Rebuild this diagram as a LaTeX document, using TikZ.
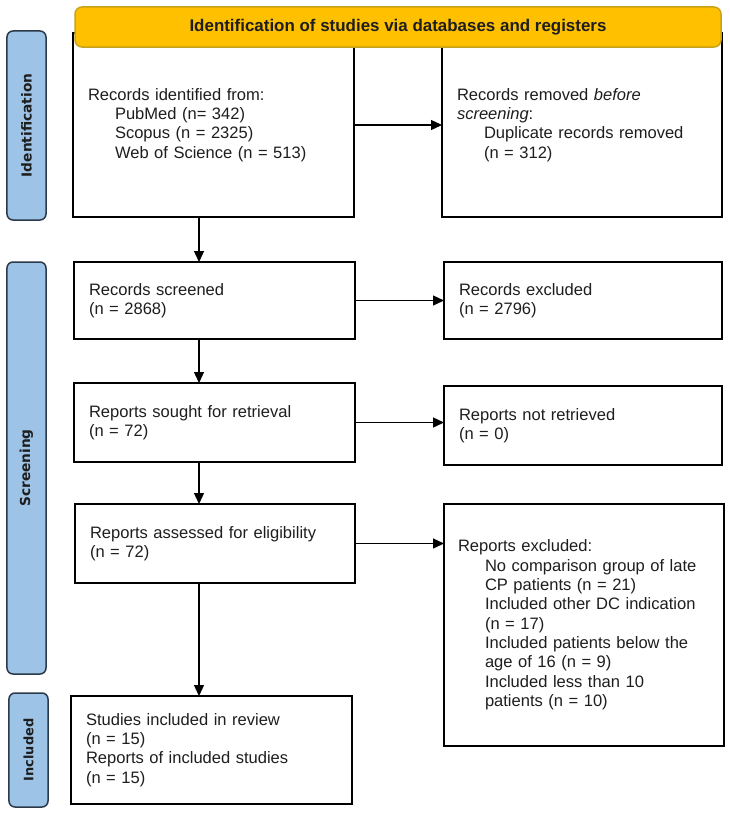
\documentclass[tikz,border=0pt]{standalone}
\usepackage{fontspec}
\setmainfont{Liberation Sans}
\newfontfamily\sidefont{DejaVu Sans}
\usetikzlibrary{arrows.meta,calc}
\definecolor{hdrfill}{HTML}{FFC000}
\definecolor{hdrline}{HTML}{C9A21C}
\definecolor{barfill}{HTML}{9DC3E6}
\definecolor{barline}{HTML}{2B3A4A}
\definecolor{txt}{HTML}{1E1E1E}
\newcommand{\ind}{\hspace*{27bp}}
\begin{document}
\begin{tikzpicture}[x=1bp,y=-1bp,
  box/.style={draw=black, line width=1.6bp, fill=white, anchor=north west,
    inner xsep=15bp, inner ysep=0pt, outer sep=0pt, align=left,
    font=\fontsize{16.6}{19.4}\selectfont, text=txt},
  bar/.style={draw=barline, line width=1.5bp, fill=barfill, rounded corners=6bp,
    outer sep=0pt, inner sep=0pt, rotate=90, anchor=center,
    font=\sidefont\bfseries\fontsize{13.8}{16}\selectfont, text=txt},
  arr/.style={-{Triangle[length=11bp,width=10bp]}, line width=1.3bp, draw=black},
]
\useasboundingbox (0,0) rectangle (730,818);
\fill[white] (0,0) rectangle (730,818);

% side bars
\node[bar, minimum width=189bp, minimum height=39bp] (idbar) at (26.5,125.5) {Identification};
\node[bar, minimum width=412bp, minimum height=39bp] (scbar) at (26.5,468) {Screening};
\node[bar, minimum width=114bp, minimum height=39bp, font=\sidefont\bfseries\fontsize{13}{15}\selectfont] (inbar) at (28.5,750) {Included};

% boxes
\node[box, minimum width=281bp, minimum height=184bp, text width=251bp] (b1) at (73,33)
  {Records identified from:\\ \ind PubMed (n= 342)\\ \ind Scopus (n = 2325)\\ \ind Web of Science (n = 513)};
\node[box, minimum width=280bp, minimum height=184bp, text width=250bp] (b2) at (442,33)
  {Records removed \textit{before}\\ \textit{screening}:\\ \ind Duplicate records removed\\ \ind (n = 312)};
\node[box, minimum width=281bp, minimum height=77bp, text width=251bp] (b3) at (74,262)
  {Records screened\\ (n = 2868)};
\node[box, minimum width=278bp, minimum height=77bp, text width=248bp] (b4) at (444,262)
  {Records excluded\\ (n = 2796)};
\node[box, minimum width=281bp, minimum height=79bp, text width=251bp] (b5) at (74,383)
  {Reports sought for retrieval\\ (n = 72)};
\node[box, minimum width=278bp, minimum height=79bp, text width=248bp] (b6) at (444,386)
  {Reports not retrieved\\ (n = 0)};
\node[box, minimum width=280bp, minimum height=79bp, text width=250bp] (b7) at (75,504)
  {Reports assessed for eligibility\\ (n = 72)};
\node[box, minimum width=280bp, minimum height=242bp, text width=252bp, inner xsep=14bp] (b8) at (444,504)
  {Reports excluded:\\ \ind No comparison group of late\\ \ind CP patients (n = 21)\\ \ind Included other DC indication\\ \ind (n = 17)\\ \ind Included patients below the\\ \ind age of 16 (n = 9)\\ \ind Included less than 10\\ \ind patients (n = 10)};
\node[box, minimum width=281bp, minimum height=108bp, text width=251bp] (b9) at (71,696)
  {Studies included in review\\ (n = 15)\\ Reports of included studies\\ (n = 15)};

% header
\node[draw=hdrline, line width=1.5bp, fill=hdrfill, rounded corners=7bp,
  minimum width=646bp, minimum height=40bp, anchor=north west, outer sep=0pt,
  font=\bfseries\fontsize{17}{19}\selectfont, text=txt] (hdr) at (75,7)
  {Identification of studies via databases and registers};

% connectors
\coordinate (ax) at (199,0);
\draw[arr] (b1.south -| ax) -- (b3.north -| ax);
\draw[arr] (b1.east) -- (b1.east -| b2.west);
\draw[arr] (b3.east) -- (b3.east -| b4.west);
\draw[arr] (b3.south -| ax) -- (b5.north -| ax);
\draw[arr] (b5.east) -- (b5.east -| b6.west);
\draw[arr] (b5.south -| ax) -- (b7.north -| ax);
\draw[arr] (b7.east) -- (b7.east -| b8.west);
\draw[arr] (b7.south -| ax) -- (b9.north -| ax);
\end{tikzpicture}
\end{document}
